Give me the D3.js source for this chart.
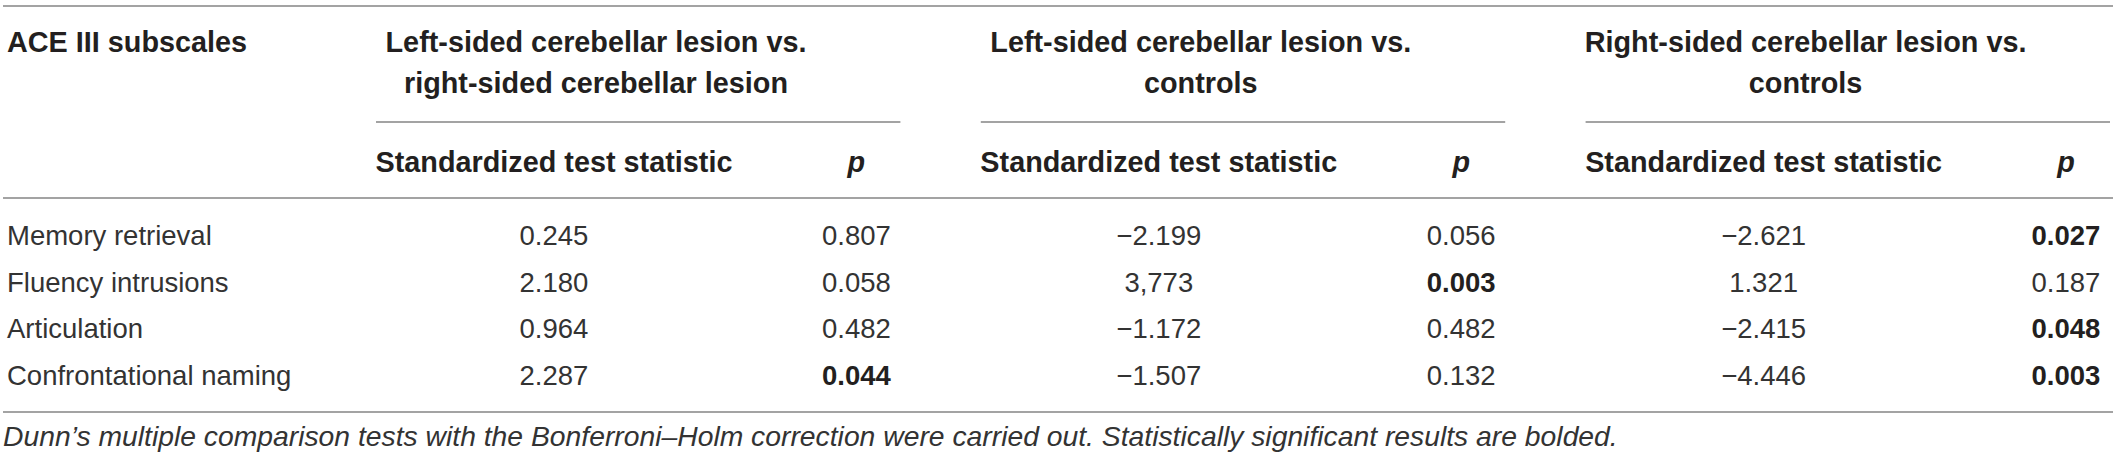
<!DOCTYPE html>
<html>
<head>
<meta charset="utf-8">
<script src="https://cdn.jsdelivr.net/npm/d3@7/dist/d3.min.js"></script>
<style>
  html, body { margin: 0; padding: 0; background: #fff; }
  svg { display: block; }
  text { font-family: "Liberation Sans", Arial, sans-serif; }
</style>
</head>
<body>
<svg id="table" width="2118" height="460"></svg>
<script>
// table content
const subscales = ["Memory retrieval", "Fluency intrusions", "Articulation", "Confrontational naming"];
const groupTitles = [
    ["Left-sided cerebellar lesion vs.", "right-sided cerebellar lesion"],
    ["Left-sided cerebellar lesion vs.", "controls"],
    ["Right-sided cerebellar lesion vs.", "controls"]
];
const subHeaders = ["Standardized test statistic", "p"];
const leftVsRightStat = ["0.245", "2.180", "0.964", "2.287"];
const leftVsRightP = ["0.807", "0.058", "0.482", "0.044"];
const leftVsCtrlStat = ["\u22122.199", "3,773", "\u22121.172", "\u22121.507"];
const leftVsCtrlP = ["0.056", "0.003", "0.482", "0.132"];
const rightVsCtrlStat = ["\u22122.621", "1.321", "\u22122.415", "\u22124.446"];
const rightVsCtrlP = ["0.027", "0.187", "0.048", "0.003"];
const footnote = "Dunn\u2019s multiple comparison tests with the Bonferroni\u2013Holm correction were carried out. Statistically significant results are bolded.";

const columns = [leftVsRightStat, leftVsRightP, leftVsCtrlStat, leftVsCtrlP, rightVsCtrlStat, rightVsCtrlP];

const width = 2118;
const svg = d3.select("#table");

const xCol = d3.scaleLinear().domain([0, columns.length - 1]).range([554, 2066]);
const yRow = d3.scalePoint().domain(subscales).range([245, 385]);

const ruleColor = "#a3a3a3";
const headColor = "#231f20";
const bodyColor = "#333";

function rule(y, x1, x2) {
    svg.append("line")
        .attr("x1", x1).attr("x2", x2)
        .attr("y1", y).attr("y2", y)
        .attr("stroke", ruleColor)
        .attr("stroke-width", 2);
}

// horizontal rules
rule(6, 3, width - 5);
rule(198, 3, width - 5);
rule(412, 3, width - 5);

// header: first column
svg.append("text")
    .attr("x", 7).attr("y", 52)
    .attr("font-size", 28.8)
    .attr("font-weight", "bold")
    .attr("fill", headColor)
    .text("ACE III subscales");

// header: comparison groups
const groups = svg.selectAll(".group")
    .data(groupTitles)
    .join("g")
    .attr("class", "group");

groups.each(function (lines, g) {
    const sel = d3.select(this);
    sel.selectAll("text.title")
        .data(lines)
        .join("text")
        .attr("class", "title")
        .attr("x", xCol(2 * g) + 42)
        .attr("y", (d, i) => 52 + i * 41)
        .attr("text-anchor", "middle")
        .attr("font-size", 28.8)
        .attr("font-weight", "bold")
        .attr("fill", headColor)
        .text(d => d);
    sel.append("line")
        .attr("x1", xCol(2 * g) - 178)
        .attr("x2", xCol(2 * g + 1) + 44)
        .attr("y1", 122).attr("y2", 122)
        .attr("stroke", ruleColor)
        .attr("stroke-width", 2);
    sel.selectAll("text.sub")
        .data(subHeaders)
        .join("text")
        .attr("class", "sub")
        .attr("x", (d, i) => xCol(2 * g + i))
        .attr("y", 172)
        .attr("text-anchor", "middle")
        .attr("font-size", 28.8)
        .attr("font-weight", "bold")
        .attr("font-style", (d, i) => i === 1 ? "italic" : "normal")
        .attr("fill", headColor)
        .text(d => d);
});

// body: row labels
svg.selectAll("text.rowlabel")
    .data(subscales)
    .join("text")
    .attr("class", "rowlabel")
    .attr("x", 7)
    .attr("y", d => yRow(d))
    .attr("font-size", 27.5)
    .attr("fill", bodyColor)
    .text(d => d);

// body: values, significant p bolded
columns.forEach((col, c) => {
    const isP = c % 2 === 1;
    svg.selectAll("text.col" + c)
        .data(col)
        .join("text")
        .attr("class", "col" + c)
        .attr("x", xCol(c))
        .attr("y", (d, i) => yRow(subscales[i]))
        .attr("text-anchor", "middle")
        .attr("font-size", 27.5)
        .attr("font-weight", d => isP && +d < 0.05 ? "bold" : "normal")
        .attr("fill", d => isP && +d < 0.05 ? headColor : bodyColor)
        .text(d => d);
});

// footnote
svg.append("text")
    .attr("x", 3).attr("y", 446)
    .attr("font-size", 28.3)
    .attr("font-style", "italic")
    .attr("fill", bodyColor)
    .text(footnote);
</script>
</body>
</html>
